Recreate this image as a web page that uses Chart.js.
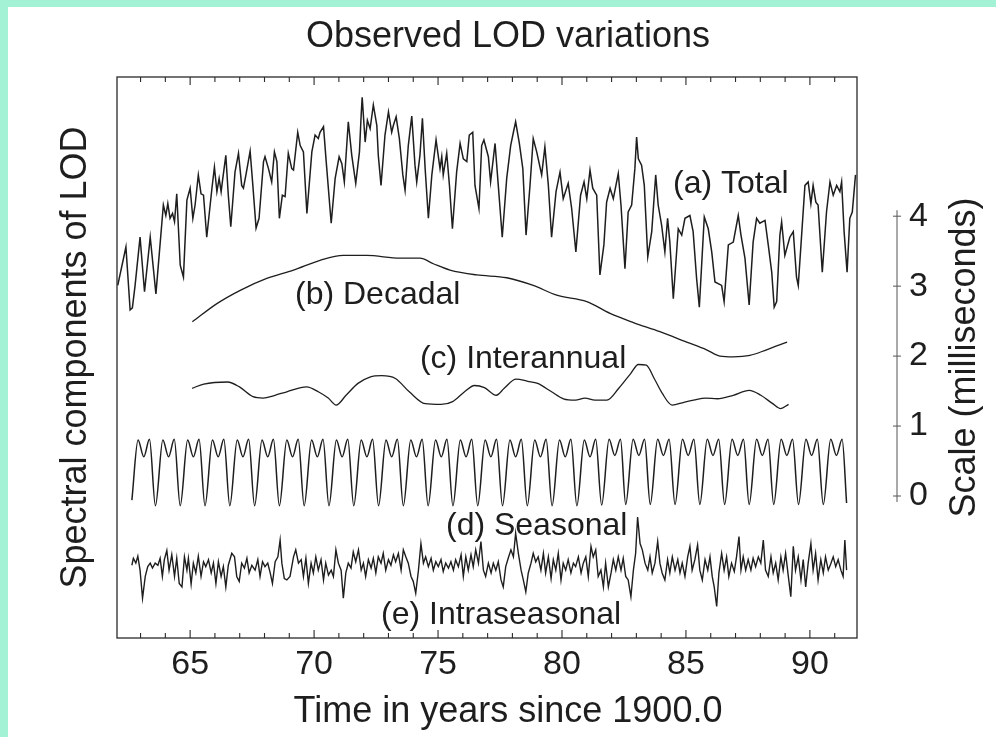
<!DOCTYPE html>
<html>
<head>
<meta charset="utf-8">
<title>Observed LOD variations</title>
<script src="https://cdn.jsdelivr.net/npm/chart.js@4.4.1/dist/chart.umd.min.js"></script>
<style>
  html, body { margin: 0; padding: 0; }
  body { width: 996px; height: 737px; background: #a4f2d5; position: relative; overflow: hidden; }
  #wrap { position: absolute; left: 8px; top: 7px; width: 988px; height: 730px; background: #fff; }
</style>
</head>
<body>
<div id="wrap"><canvas id="lod" width="988" height="730"></canvas></div>
<script>
(function () {

// ---------------------------------------------------------------------------------------------
// data: [year since 1900, plotted value in ms]

var total = [
  [62.08,3.01],[62.41,3.56],[62.58,2.66],[62.67,2.69],[62.78,3.01],[62.98,3.70],[63.16,2.92],[63.39,3.70],[63.62,2.89],[63.92,4.16],
  [64.02,4.01],[64.10,4.18],[64.19,3.97],[64.29,4.04],[64.37,3.92],[64.46,4.32],[64.60,3.30],[64.73,3.13],[64.87,4.23],[65.00,4.40],
  [65.11,3.97],[65.20,4.16],[65.33,4.59],[65.44,4.32],[65.54,4.30],[65.67,3.70],[65.88,4.40],[65.98,4.70],[66.08,4.35],[66.17,4.54],
  [66.25,4.35],[66.30,4.49],[66.44,4.87],[66.54,4.30],[66.64,3.85],[66.81,4.63],[66.95,4.90],[67.08,4.44],[67.15,4.40],[67.26,4.61],
  [67.42,4.93],[67.53,4.44],[67.66,3.83],[67.78,3.97],[67.96,4.78],[68.02,4.85],[68.16,4.68],[68.29,4.49],[68.40,4.92],[68.50,4.78],
  [68.60,3.97],[68.72,4.30],[68.83,4.28],[68.96,4.90],[69.10,4.68],[69.17,4.66],[69.34,5.20],[69.44,5.01],[69.57,4.92],[69.71,4.04],
  [69.91,4.92],[70.04,5.16],[70.17,5.11],[70.24,5.20],[70.38,5.28],[70.48,4.82],[70.69,3.90],[70.85,4.54],[71.01,4.85],[71.12,4.75],
  [71.22,4.49],[71.38,5.35],[71.52,4.87],[71.68,4.47],[71.83,4.92],[71.90,5.45],[71.94,5.70],[72.06,5.06],[72.15,5.37],[72.26,5.25],
  [72.39,5.59],[72.53,5.30],[72.59,4.87],[72.70,4.44],[72.86,5.16],[73.00,5.49],[73.13,5.20],[73.20,5.30],[73.31,5.42],[73.44,5.11],
  [73.58,4.59],[73.67,4.37],[73.80,5.01],[73.94,5.43],[74.07,4.73],[74.14,4.49],[74.27,4.87],[74.37,5.40],[74.48,4.68],[74.61,3.97],
  [74.75,4.59],[74.92,5.09],[75.08,4.68],[75.15,4.85],[75.21,4.59],[75.35,4.90],[75.46,4.44],[75.58,3.82],[75.75,4.63],[75.89,5.04],
  [76.02,4.82],[76.16,4.78],[76.26,5.16],[76.40,5.20],[76.49,4.44],[76.65,4.11],[76.76,5.01],[76.85,5.09],[77.03,4.85],[77.12,4.49],
  [77.30,5.04],[77.43,4.44],[77.59,3.70],[77.77,4.54],[77.93,5.01],[78.04,5.20],[78.13,5.35],[78.28,5.04],[78.42,4.68],[78.55,3.73],
  [78.71,4.44],[78.84,5.11],[78.98,4.92],[79.18,4.59],[79.31,4.99],[79.45,4.44],[79.58,3.70],[79.76,4.35],[79.92,4.63],[80.05,4.25],
  [80.25,4.47],[80.39,4.11],[80.56,3.49],[80.75,4.30],[80.89,4.49],[81.00,4.25],[81.13,4.66],[81.24,4.40],[81.40,4.30],[81.53,3.16],
  [81.69,3.59],[81.80,4.20],[81.94,4.40],[82.07,4.25],[82.27,4.61],[82.38,4.16],[82.54,3.25],[82.67,4.06],[82.81,4.16],[82.94,4.68],
  [83.01,5.13],[83.08,4.82],[83.21,4.73],[83.32,4.44],[83.46,3.42],[83.62,3.78],[83.78,4.59],[83.88,4.16],[84.02,3.87],[84.15,3.49],
  [84.26,3.97],[84.35,3.63],[84.49,2.82],[84.69,3.82],[84.83,3.73],[84.96,3.97],[85.16,4.01],[85.29,3.78],[85.43,3.11],[85.54,2.70],
  [85.74,3.99],[85.90,3.82],[86.04,3.49],[86.17,3.06],[86.44,3.01],[86.54,2.78],[86.71,3.59],[86.91,3.63],[87.11,4.01],[87.22,3.73],
  [87.38,3.40],[87.55,2.73],[87.71,3.63],[87.85,3.97],[87.98,3.90],[88.19,3.94],[88.32,3.59],[88.46,3.20],[88.56,2.70],[88.66,2.78],
  [88.79,3.73],[88.86,3.92],[88.99,3.44],[89.19,3.70],[89.33,3.78],[89.46,3.13],[89.53,3.01],[89.64,3.59],[89.80,4.44],[89.93,4.49],
  [90.04,4.18],[90.13,4.44],[90.24,4.20],[90.33,4.16],[90.50,3.20],[90.67,4.06],[90.81,4.49],[90.94,4.30],[91.08,4.44],[91.21,4.35],
  [91.28,4.49],[91.38,3.78],[91.50,3.20],[91.61,3.97],[91.71,4.06],[91.84,4.59]
];

var decadal = [
  [65.09,2.49],[66.08,2.75],[67.02,2.94],[68.09,3.11],[69.17,3.23],[70.24,3.37],[71.18,3.44],[72.12,3.44],[73.47,3.40],
  [74.27,3.40],[74.81,3.32],[75.48,3.23],[76.56,3.16],[77.77,3.12],[78.84,3.01],[79.79,2.87],[81.00,2.78],[81.94,2.61],
  [82.88,2.48],[83.95,2.35],[85.03,2.20],[85.83,2.09],[86.37,2.00],[86.91,1.99],[87.58,2.01],[88.25,2.09],[89.08,2.20]
];

var interannual = [
  [65.08,1.54],[65.55,1.60],[66.51,1.63],[66.99,1.56],[67.54,1.42],[67.94,1.40],[68.42,1.44],[68.90,1.49],[69.70,1.56],
  [70.17,1.49],[70.57,1.40],[70.89,1.30],[71.29,1.44],[71.77,1.61],[72.25,1.70],[72.73,1.72],[73.28,1.68],[73.84,1.49],
  [74.48,1.32],[75.12,1.31],[75.59,1.35],[76.07,1.49],[76.47,1.58],[76.87,1.55],[77.35,1.44],[77.67,1.54],[78.15,1.67],
  [78.62,1.64],[79.02,1.61],[79.58,1.49],[80.06,1.39],[80.54,1.37],[80.93,1.40],[81.33,1.37],[81.81,1.37],[82.29,1.54],
  [82.77,1.75],[83.08,1.88],[83.40,1.87],[83.72,1.68],[84.04,1.47],[84.44,1.30],[84.92,1.34],[85.31,1.37],[85.79,1.40],
  [86.27,1.39],[86.91,1.44],[87.55,1.51],[88.02,1.44],[88.50,1.32],[88.82,1.25],[89.14,1.31]
];

var seasonal = [
  [62.65,-0.06],[62.90,0.80],[63.13,0.56],[63.36,0.81],
  [63.60,-0.14],[63.90,0.80],[64.13,0.56],[64.36,0.81],
  [64.60,-0.14],[64.90,0.80],[65.13,0.56],[65.36,0.81],
  [65.60,-0.14],[65.90,0.80],[66.13,0.56],[66.36,0.81],
  [66.60,-0.14],[66.90,0.80],[67.13,0.56],[67.36,0.81],
  [67.60,-0.14],[67.90,0.80],[68.13,0.56],[68.36,0.81],
  [68.60,-0.14],[68.90,0.80],[69.13,0.56],[69.36,0.81],
  [69.60,-0.14],[69.90,0.80],[70.13,0.56],[70.36,0.81],
  [70.60,-0.14],[70.90,0.80],[71.13,0.56],[71.36,0.81],
  [71.60,-0.14],[71.90,0.80],[72.13,0.56],[72.36,0.81],
  [72.60,-0.14],[72.90,0.80],[73.13,0.56],[73.36,0.81],
  [73.60,-0.14],[73.90,0.80],[74.13,0.56],[74.36,0.81],
  [74.60,-0.14],[74.90,0.80],[75.13,0.56],[75.36,0.81],
  [75.60,-0.14],[75.90,0.80],[76.13,0.56],[76.36,0.81],
  [76.60,-0.14],[76.90,0.80],[77.13,0.56],[77.36,0.81],
  [77.60,-0.14],[77.90,0.80],[78.13,0.56],[78.36,0.81],
  [78.60,-0.14],[78.90,0.80],[79.13,0.56],[79.36,0.81],
  [79.60,-0.14],[79.90,0.80],[80.13,0.56],[80.36,0.81],
  [80.60,-0.14],[80.90,0.80],[81.13,0.56],[81.36,0.81],
  [81.60,-0.13],[81.90,0.81],[82.13,0.58],[82.36,0.81],
  [82.57,-0.12],[82.87,0.81],[83.10,0.58],[83.33,0.81],
  [83.56,-0.12],[83.86,0.81],[84.09,0.58],[84.32,0.81],
  [84.56,-0.12],[84.86,0.81],[85.09,0.58],[85.32,0.81],
  [85.56,-0.12],[85.86,0.81],[86.09,0.58],[86.32,0.81],
  [86.56,-0.12],[86.86,0.81],[87.09,0.58],[87.32,0.81],
  [87.55,-0.12],[87.85,0.81],[88.08,0.58],[88.31,0.81],
  [88.54,-0.12],[88.84,0.81],[89.07,0.58],[89.30,0.81],
  [89.54,-0.12],[89.84,0.81],[90.07,0.58],[90.30,0.81],
  [90.54,-0.12],[90.84,0.81],[91.07,0.58],[91.30,0.81],
  [91.48,-0.10]
];

var intraseasonal = [
  [62.65,-0.99],[62.71,-0.89],[62.81,-0.96],[62.89,-0.86],[62.98,-1.06],[63.08,-1.46],[63.19,-1.15],[63.29,-1.01],[63.39,-0.96],[63.48,-1.03],
  [63.59,-0.96],[63.70,-0.99],[63.79,-0.89],[63.88,-1.15],[63.96,-0.91],[64.06,-0.78],[64.15,-1.06],[64.26,-0.84],[64.37,-1.15],[64.46,-0.89],
  [64.56,-1.25],[64.67,-1.30],[64.77,-0.87],[64.87,-1.06],[64.93,-0.89],[65.04,-1.26],[65.13,-0.96],[65.23,-1.10],[65.33,-0.86],[65.44,-1.15],
  [65.54,-0.94],[65.63,-1.01],[65.74,-0.91],[65.85,-1.10],[65.94,-0.96],[66.04,-1.25],[66.14,-0.94],[66.25,-1.15],[66.34,-1.01],[66.44,-1.30],
  [66.54,-0.99],[66.68,-0.82],[66.79,-0.87],[66.88,-1.15],[66.98,-1.22],[67.08,-0.96],[67.19,-1.03],[67.29,-0.89],[67.38,-1.10],[67.49,-0.99],
  [67.62,-1.06],[67.73,-0.91],[67.82,-1.15],[67.92,-0.94],[68.02,-1.01],[68.13,-0.96],[68.23,-1.10],[68.32,-1.25],[68.43,-0.94],[68.54,-0.87],
  [68.63,-0.63],[68.70,-0.96],[68.80,-1.18],[68.90,-1.20],[69.03,-1.15],[69.17,-0.87],[69.26,-0.77],[69.37,-0.96],[69.48,-0.91],[69.57,-1.15],
  [69.67,-0.89],[69.77,-1.25],[69.88,-0.96],[69.97,-1.10],[70.07,-0.87],[70.17,-1.06],[70.28,-0.91],[70.38,-1.20],[70.47,-0.96],[70.58,-1.13],
  [70.69,-1.06],[70.78,-1.15],[70.88,-0.77],[70.98,-0.96],[71.09,-1.06],[71.18,-1.46],[71.28,-1.10],[71.38,-0.96],[71.49,-1.03],[71.58,-0.80],
  [71.68,-0.94],[71.79,-0.77],[71.90,-1.06],[71.99,-0.96],[72.08,-1.15],[72.19,-0.91],[72.30,-1.03],[72.39,-0.89],[72.49,-1.10],[72.59,-0.87],
  [72.70,-0.96],[72.79,-0.82],[72.89,-1.06],[73.00,-0.91],[73.10,-0.99],[73.20,-0.84],[73.29,-0.94],[73.40,-0.82],[73.51,-1.06],[73.60,-0.77],
  [73.70,-0.87],[73.80,-0.96],[73.91,-1.15],[74.00,-1.22],[74.10,-1.39],[74.21,-1.06],[74.31,-0.68],[74.41,-0.96],[74.50,-0.87],[74.61,-1.01],
  [74.72,-0.89],[74.81,-1.06],[74.91,-0.94],[75.01,-1.01],[75.12,-0.91],[75.21,-1.08],[75.31,-0.96],[75.42,-1.03],[75.52,-0.94],[75.62,-1.06],
  [75.71,-0.91],[75.82,-1.01],[75.93,-0.84],[76.02,-1.15],[76.12,-0.87],[76.22,-1.06],[76.33,-0.84],[76.42,-1.01],[76.52,-0.77],[76.63,-0.96],
  [76.73,-0.65],[76.83,-1.06],[76.92,-1.15],[77.03,-0.96],[77.14,-1.10],[77.23,-0.96],[77.33,-1.06],[77.43,-0.94],[77.54,-1.20],[77.63,-1.30],
  [77.73,-1.01],[77.83,-0.89],[77.94,-0.77],[78.04,-0.87],[78.13,-0.53],[78.24,-0.82],[78.35,-1.06],[78.44,-1.20],[78.54,-1.37],[78.64,-1.10],
  [78.75,-0.96],[78.84,-0.82],[78.94,-0.94],[79.04,-0.87],[79.15,-1.06],[79.25,-0.82],[79.34,-1.10],[79.45,-0.87],[79.56,-1.18],[79.65,-0.91],
  [79.75,-1.06],[79.85,-0.82],[79.96,-1.20],[80.05,-0.96],[80.15,-1.06],[80.25,-0.91],[80.36,-1.10],[80.46,-0.96],[80.55,-1.01],[80.66,-0.87],
  [80.77,-1.10],[80.86,-0.96],[80.96,-0.87],[81.06,-1.15],[81.17,-0.72],[81.26,-0.87],[81.36,-0.77],[81.46,-1.15],[81.57,-1.06],[81.67,-1.30],
  [81.76,-0.96],[81.87,-1.30],[81.98,-1.10],[82.07,-0.91],[82.17,-1.06],[82.27,-0.87],[82.38,-1.06],[82.47,-0.89],[82.57,-1.15],[82.67,-1.20],
  [82.78,-1.44],[82.88,-1.06],[82.97,-0.82],[83.05,-0.30],[83.15,-0.68],[83.24,-0.77],[83.35,-0.96],[83.46,-1.06],[83.55,-0.87],[83.64,-1.10],
  [83.75,-0.96],[83.86,-0.65],[83.95,-0.96],[84.04,-1.10],[84.15,-1.20],[84.26,-0.91],[84.35,-1.10],[84.45,-0.87],[84.56,-1.06],[84.67,-0.91],
  [84.76,-1.10],[84.85,-0.96],[84.96,-1.15],[85.07,-0.87],[85.16,-0.72],[85.25,-1.06],[85.36,-0.91],[85.47,-0.70],[85.56,-1.06],[85.66,-1.20],
  [85.77,-0.91],[85.88,-1.06],[85.97,-0.87],[86.06,-1.15],[86.14,-1.30],[86.24,-1.58],[86.33,-1.10],[86.44,-0.82],[86.54,-1.06],[86.64,-0.87],
  [86.73,-1.15],[86.84,-0.96],[86.95,-1.08],[87.04,-0.87],[87.14,-0.58],[87.22,-1.06],[87.31,-0.87],[87.41,-1.06],[87.51,-0.91],[87.62,-1.06],
  [87.71,-0.89],[87.81,-1.01],[87.92,-0.87],[88.02,-0.96],[88.12,-0.63],[88.21,-1.06],[88.32,-1.15],[88.43,-0.87],[88.52,-1.10],[88.62,-0.96],
  [88.72,-1.20],[88.83,-0.87],[88.92,-1.06],[89.02,-0.82],[89.13,-1.15],[89.23,-1.44],[89.33,-0.72],[89.42,-1.06],[89.53,-0.87],[89.64,-1.20],
  [89.73,-0.91],[89.83,-1.30],[89.93,-0.96],[90.04,-0.68],[90.13,-1.06],[90.23,-0.82],[90.33,-1.20],[90.44,-0.91],[90.54,-1.10],[90.63,-0.87],
  [90.74,-1.06],[90.85,-0.96],[90.94,-0.87],[91.04,-1.01],[91.14,-0.91],[91.25,-1.06],[91.34,-1.15],[91.41,-0.63],[91.48,-1.06]
];

var xTicks = [65, 70, 75, 80, 85, 90];
var yearTicks = [63, 64, 65, 66, 67, 68, 69, 70, 71, 72, 73, 74, 75, 76, 77, 78, 79, 80, 81, 82, 83, 84, 85, 86, 87, 88, 89, 90, 91];
var scaleTicks = [0, 1, 2, 3, 4];

var seriesLabels = [
  { text: '(a) Total',         t: 84.48, v: 4.33 },
  { text: '(b) Decadal',       t: 69.23, v: 2.74 },
  { text: '(c) Interannual',   t: 74.27, v: 1.83 },
  { text: '(d) Seasonal',      t: 75.32, v: -0.56 },
  { text: '(e) Intraseasonal', t: 72.70, v: -1.83 }
];

// ---------------------------------------------------------------------------------------------

var FONT = '"Liberation Sans", Arial, Helvetica, sans-serif';
var INK = '#1e1e1e';

function pts(arr) {
    return arr.map(function (p) { return { x: p[0], y: p[1] }; });
}

function line(arr, width, smooth) {
    return {
        data: pts(arr),
        borderColor: INK,
        borderWidth: width,
        pointRadius: 0,
        fill: false,
        tension: 0,
        cubicInterpolationMode: smooth ? 'monotone' : 'default'
    };
}

// box, inward year ticks, curve names and the separate millisecond scale bar
var decor = {
    id: 'decor',
    afterDatasetsDraw: function (chart) {
        var ctx = chart.ctx, a = chart.chartArea;
        var x = chart.scales.x, y = chart.scales.y, y2 = chart.scales.y2;
        ctx.save();

        ctx.strokeStyle = '#2a2a2a';
        ctx.lineWidth = 1.3;
        ctx.strokeRect(a.left, a.top, a.right - a.left, a.bottom - a.top);

        ctx.lineWidth = 1.1;
        ctx.beginPath();
        yearTicks.forEach(function (yr) {
            var px = x.getPixelForValue(yr);
            var len = (yr % 5 === 0) ? 8 : 5;
            ctx.moveTo(px, a.bottom); ctx.lineTo(px, a.bottom - len);
            ctx.moveTo(px, a.top); ctx.lineTo(px, a.top + len);
        });
        ctx.stroke();

        ctx.fillStyle = INK;
        ctx.font = '32px ' + FONT;
        ctx.textAlign = 'left';
        ctx.textBaseline = 'alphabetic';
        seriesLabels.forEach(function (l) {
            ctx.fillText(l.text, x.getPixelForValue(l.t), y.getPixelForValue(l.v));
        });

        // scale bar
        var bx = a.right + 40;
        var top = y2.getPixelForValue(scaleTicks[scaleTicks.length - 1]);
        var bot = y2.getPixelForValue(scaleTicks[0]);
        ctx.strokeStyle = '#555';
        ctx.lineWidth = 1;
        ctx.beginPath();
        ctx.moveTo(bx, top - 6); ctx.lineTo(bx, bot + 6);
        scaleTicks.forEach(function (v) {
            var py = y2.getPixelForValue(v);
            ctx.moveTo(bx - 4, py); ctx.lineTo(bx + 4, py);
        });
        ctx.stroke();

        ctx.font = '34px ' + FONT;
        ctx.textBaseline = 'middle';
        scaleTicks.forEach(function (v) {
            ctx.fillText(String(v), bx + 12, y2.getPixelForValue(v));
        });

        ctx.font = '36px ' + FONT;
        ctx.textAlign = 'center';
        ctx.translate(a.right + 108, (a.top + a.bottom) / 2);
        ctx.rotate(-Math.PI / 2);
        ctx.fillText('Scale (milliseconds)', 0, 0);

        ctx.restore();
    }
};

try {
    var canvas = document.getElementById('lod');
    var ctx = canvas.getContext('2d');

    new Chart(ctx, {
        type: 'line',
        data: {
            datasets: [
                line(total, 1.5, false),
                line(decadal, 1.3, true),
                line(interannual, 1.3, true),
                line(seasonal, 1.5, true),
                line(intraseasonal, 1.4, false)
            ]
        },
        options: {
            responsive: false,
            animation: false,
            events: [],
            layout: { padding: { left: 12, right: 0, top: 0, bottom: 0 } },
            plugins: {
                legend: { display: false },
                tooltip: { enabled: false },
                title: {
                    display: true,
                    text: 'Observed LOD variations',
                    color: INK,
                    font: { family: FONT, size: 36, weight: 'normal', lineHeight: 1.2 },
                    padding: { top: 8, bottom: 18.8 }
                },
                subtitle: {
                    display: true,
                    position: 'bottom',
                    text: 'Time in years since 1900.0',
                    color: INK,
                    font: { family: FONT, size: 36, weight: 'normal', lineHeight: 1.2 },
                    padding: { top: 4.6, bottom: 3.4 }
                }
            },
            scales: {
                x: {
                    type: 'linear',
                    min: 62.05,
                    max: 91.9,
                    grid: { display: false, drawTicks: false },
                    border: { display: false },
                    ticks: {
                        color: INK,
                        font: { family: FONT, size: 34, lineHeight: 1.2 },
                        padding: 6.6,
                        maxRotation: 0,
                        autoSkip: false
                    },
                    afterBuildTicks: function (s) {
                        s.ticks = xTicks.map(function (v) { return { value: v }; });
                    },
                    afterFit: function (s) { s.height = 47.8; }
                },
                y: {
                    type: 'linear',
                    position: 'left',
                    min: -2.03,
                    max: 5.99,
                    grid: { display: false, drawTicks: false },
                    border: { display: false },
                    ticks: { display: false },
                    title: {
                        display: true,
                        text: 'Spectral components of LOD',
                        color: INK,
                        font: { family: FONT, size: 36, lineHeight: 1.2 },
                        padding: { top: 34.4, bottom: 0 }
                    },
                    afterFit: function (s) { s.width = 97; }
                },
                y2: {
                    type: 'linear',
                    position: 'right',
                    min: -2.03,
                    max: 5.99,
                    grid: { display: false, drawTicks: false },
                    border: { display: false },
                    ticks: { display: false },
                    afterFit: function (s) { s.width = 139; }
                }
            }
        },
        plugins: [decor]
    });
} catch (e) { console.log(e); }

})();
</script>
</body>
</html>
